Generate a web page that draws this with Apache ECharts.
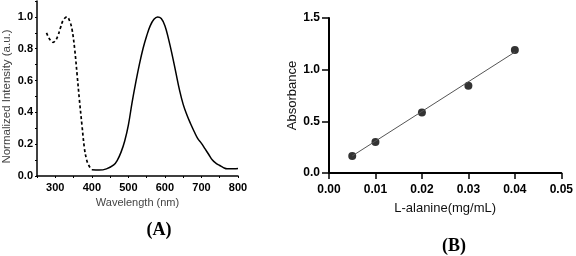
<!DOCTYPE html>
<html>
<head>
<meta charset="utf-8">
<script src="https://cdn.jsdelivr.net/npm/echarts@6/dist/echarts.min.js"></script>
<style>
html,body{margin:0;padding:0;background:#fff;}
#c{width:576px;height:256px;}
</style>
</head>
<body>
<div id="c"></div>
<script>
// Panel A: absorption (dashed) and emission (solid) spectra
const absWavelength = [276, 282, 288, 294, 300, 307, 314, 322, 332, 340, 346, 353, 360, 366, 373, 380, 386, 391, 396, 400];
const absIntensity  = [0.90, 0.87, 0.85, 0.84, 0.85, 0.88, 0.93, 0.98, 1.00, 0.97, 0.92, 0.80, 0.63, 0.48, 0.32, 0.17, 0.10, 0.07, 0.05, 0.04];
const emWavelength = [400, 420, 440, 460, 470, 480, 490, 500, 510, 520, 530, 540, 550, 560, 570, 580, 590, 600, 610, 620, 630, 640, 650, 660, 670, 680, 690, 700, 710, 720, 730, 740, 750, 760, 770, 780, 790, 800];
const emIntensity  = [0.04, 0.037, 0.045, 0.07, 0.10, 0.15, 0.22, 0.32, 0.46, 0.585, 0.70, 0.80, 0.88, 0.945, 0.985, 1.00, 0.99, 0.945, 0.86, 0.76, 0.65, 0.54, 0.45, 0.385, 0.33, 0.28, 0.235, 0.205, 0.17, 0.135, 0.10, 0.08, 0.066, 0.053, 0.045, 0.045, 0.045, 0.047];

// Panel B: calibration
const concentration = [0.005, 0.01, 0.02, 0.03, 0.04];
const absorbance    = [0.165, 0.30, 0.585, 0.845, 1.19];
const fitConc = [0.005, 0.04];
const fitAbs  = [0.165, 1.17];

const panelLabels = ['(A)', '(B)'];

const chart = echarts.init(document.getElementById('c'), null, {renderer: 'canvas'});
const font = 'Liberation Sans, Arial, sans-serif';

function zip(a, b) { return a.map((v, i) => [v, b[i]]); }

chart.setOption({
  animation: false,
  backgroundColor: '#fff',
  grid: [
    {left: 36, top: 1, width: 202, height: 175},
    {left: 329, top: 18, width: 234, height: 155}
  ],
  xAxis: [
    {
      gridIndex: 0, type: 'value', min: 250, max: 800, interval: 50,
      name: 'Wavelength (nm)', nameLocation: 'middle', nameGap: 18,
      nameTextStyle: {fontFamily: font, fontSize: 11, color: '#444'},
      axisLine: {lineStyle: {color: '#000', width: 1.5}},
      axisTick: {length: 2, lineStyle: {color: '#000'}},
      axisLabel: {margin: 6, fontFamily: font, fontSize: 11, fontWeight: 'bold', color: '#000',
        formatter: v => (v % 100 === 0 ? String(v) : '')},
      splitLine: {show: false}
    },
    {
      gridIndex: 1, type: 'value', min: 0, max: 0.05, interval: 0.01,
      name: 'L-alanine(mg/mL)', nameLocation: 'middle', nameGap: 29,
      nameTextStyle: {fontFamily: font, fontSize: 13, color: '#111'},
      axisLine: {lineStyle: {color: '#000', width: 2}},
      axisTick: {length: 6, lineStyle: {color: '#000', width: 1.5}},
      axisLabel: {margin: 11, fontFamily: font, fontSize: 12, fontWeight: 'bold', color: '#000',
        formatter: v => v.toFixed(2)},
      splitLine: {show: false}
    }
  ],
  yAxis: [
    {
      gridIndex: 0, type: 'value', min: 0, max: 1.1, interval: 0.1,
      name: 'Normalized Intensity (a.u.)', nameLocation: 'middle', nameGap: 24,
      nameTextStyle: {fontFamily: font, fontSize: 11.5, color: '#444', padding: [0, 16, 0, 0]},
      axisLine: {show: true, lineStyle: {color: '#000', width: 1.5}},
      axisTick: {show: true, length: 2, lineStyle: {color: '#000'}},
      axisLabel: {margin: 4, fontFamily: font, fontSize: 11, fontWeight: 'bold', color: '#000',
        formatter: v => {
          const k = Math.round(v * 10);
          return (k % 2 === 0 && k <= 10) ? v.toFixed(1) : '';
        }},
      splitLine: {show: false}
    },
    {
      gridIndex: 1, type: 'value', min: 0, max: 1.5, interval: 0.5,
      name: 'Absorbance', nameLocation: 'middle', nameGap: 27,
      nameTextStyle: {fontFamily: font, fontSize: 13, color: '#111'},
      axisLine: {show: true, lineStyle: {color: '#000', width: 2}},
      axisTick: {show: true, length: 7, lineStyle: {color: '#000', width: 1.5}},
      axisLabel: {margin: 9, fontFamily: font, fontSize: 12, fontWeight: 'bold', color: '#000',
        formatter: v => v.toFixed(1)},
      splitLine: {show: false}
    }
  ],
  series: [
    {
      type: 'line', xAxisIndex: 0, yAxisIndex: 0, smooth: 0.4, symbol: 'none',
      data: zip(absWavelength, absIntensity),
      lineStyle: {color: '#000', width: 1.7, type: [3, 2.5]}
    },
    {
      type: 'line', xAxisIndex: 0, yAxisIndex: 0, smooth: 0.4, symbol: 'none',
      data: zip(emWavelength, emIntensity),
      lineStyle: {color: '#000', width: 1.5}
    },
    {
      type: 'line', xAxisIndex: 1, yAxisIndex: 1, symbol: 'none',
      data: zip(fitConc, fitAbs),
      lineStyle: {color: '#555', width: 1}
    },
    {
      type: 'scatter', xAxisIndex: 1, yAxisIndex: 1, symbol: 'circle', symbolSize: 8,
      data: zip(concentration, absorbance),
      itemStyle: {color: '#000'}
    }
  ],
  graphic: [
    {type: 'text', x: 159, y: 230, style: {text: panelLabels[0], fontFamily: 'Liberation Serif, Times New Roman, serif', fontSize: 18, fontWeight: 'bold', fill: '#000', align: 'center', verticalAlign: 'middle'}},
    {type: 'text', x: 454, y: 246, style: {text: panelLabels[1], fontFamily: 'Liberation Serif, Times New Roman, serif', fontSize: 18, fontWeight: 'bold', fill: '#000', align: 'center', verticalAlign: 'middle'}}
  ]
});
</script>
</body>
</html>
